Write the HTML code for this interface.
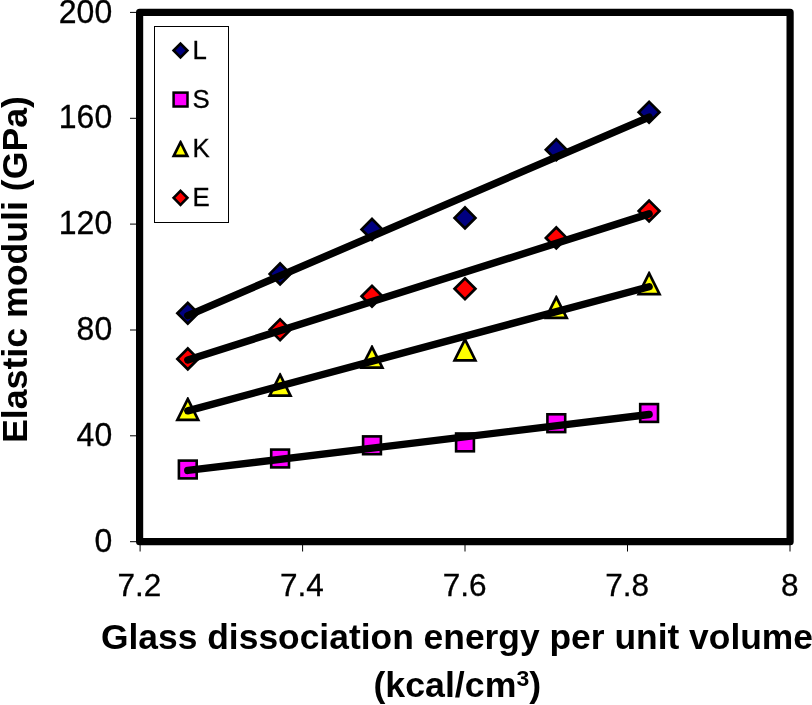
<!DOCTYPE html>
<html><head><meta charset="utf-8"><title>Chart</title>
<style>
html,body{margin:0;padding:0;background:#fff;}
body{width:812px;height:705px;overflow:hidden;}
svg{display:block;will-change:transform;}
text{font-family:"Liberation Sans",sans-serif;fill:#000;}
.b{font-weight:bold;}
.r{stroke:#000;stroke-width:0.3px;}
</style></head><body>
<svg width="812" height="705" viewBox="0 0 812 705">
<rect width="812" height="705" fill="#fff"/>
<line x1="130" y1="12.4" x2="137" y2="12.4" stroke="#000" stroke-width="1"/>
<line x1="130" y1="118.3" x2="137" y2="118.3" stroke="#000" stroke-width="1"/>
<line x1="130" y1="224.1" x2="137" y2="224.1" stroke="#000" stroke-width="1"/>
<line x1="130" y1="330.0" x2="137" y2="330.0" stroke="#000" stroke-width="1"/>
<line x1="130" y1="435.8" x2="137" y2="435.8" stroke="#000" stroke-width="1"/>
<line x1="130" y1="541.7" x2="137" y2="541.7" stroke="#000" stroke-width="1"/>
<line x1="140.1" y1="544" x2="140.1" y2="551.5" stroke="#000" stroke-width="1"/>
<line x1="302.6" y1="544" x2="302.6" y2="551.5" stroke="#000" stroke-width="1"/>
<line x1="465.0" y1="544" x2="465.0" y2="551.5" stroke="#000" stroke-width="1"/>
<line x1="627.5" y1="544" x2="627.5" y2="551.5" stroke="#000" stroke-width="1"/>
<line x1="790.0" y1="544" x2="790.0" y2="551.5" stroke="#000" stroke-width="1"/>
<polygon points="177.4,313.2 187.8,302.8 198.2,313.2 187.8,323.6" fill="#000080" stroke="#000" stroke-width="2.7" stroke-linejoin="miter"/>
<polygon points="269.7,273.9 280.1,263.5 290.5,273.9 280.1,284.3" fill="#000080" stroke="#000" stroke-width="2.7" stroke-linejoin="miter"/>
<polygon points="361.6,229.4 372.0,219.0 382.4,229.4 372.0,239.8" fill="#000080" stroke="#000" stroke-width="2.7" stroke-linejoin="miter"/>
<polygon points="454.6,217.9 465.0,207.5 475.4,217.9 465.0,228.3" fill="#000080" stroke="#000" stroke-width="2.7" stroke-linejoin="miter"/>
<polygon points="545.9,149.7 556.3,139.3 566.7,149.7 556.3,160.1" fill="#000080" stroke="#000" stroke-width="2.7" stroke-linejoin="miter"/>
<polygon points="638.7,112.2 649.1,101.8 659.5,112.2 649.1,122.6" fill="#000080" stroke="#000" stroke-width="2.7" stroke-linejoin="miter"/>
<rect x="178.9" y="460.6" width="17.8" height="17.8" fill="#ff00ff" stroke="#000" stroke-width="2.6"/>
<rect x="271.2" y="449.6" width="17.8" height="17.8" fill="#ff00ff" stroke="#000" stroke-width="2.6"/>
<rect x="363.1" y="436.4" width="17.8" height="17.8" fill="#ff00ff" stroke="#000" stroke-width="2.6"/>
<rect x="456.1" y="433.5" width="17.8" height="17.8" fill="#ff00ff" stroke="#000" stroke-width="2.6"/>
<rect x="547.4" y="414.3" width="17.8" height="17.8" fill="#ff00ff" stroke="#000" stroke-width="2.6"/>
<rect x="640.2" y="404.1" width="17.8" height="17.8" fill="#ff00ff" stroke="#000" stroke-width="2.6"/>
<polygon points="175.22,421.20 187.30,397.03 188.30,397.03 200.38,421.20" fill="#000"/><polygon points="179.58,418.50 187.80,402.07 196.02,418.50" fill="#ffff00"/>
<polygon points="267.52,397.00 279.60,372.83 280.60,372.83 292.68,397.00" fill="#000"/><polygon points="271.88,394.30 280.10,377.87 288.32,394.30" fill="#ffff00"/>
<polygon points="359.42,369.05 371.50,344.88 372.50,344.88 384.58,369.05" fill="#000"/><polygon points="363.78,366.35 372.00,349.92 380.22,366.35" fill="#ffff00"/>
<polygon points="452.42,361.75 464.50,337.58 465.50,337.58 477.58,361.75" fill="#000"/><polygon points="456.78,359.05 465.00,342.62 473.22,359.05" fill="#ffff00"/>
<polygon points="543.72,319.30 555.80,295.13 556.80,295.13 568.88,319.30" fill="#000"/><polygon points="548.08,316.60 556.30,300.17 564.52,316.60" fill="#ffff00"/>
<polygon points="636.52,295.50 648.60,271.33 649.60,271.33 661.68,295.50" fill="#000"/><polygon points="640.88,292.80 649.10,276.37 657.32,292.80" fill="#ffff00"/>
<polygon points="177.4,358.9 187.8,348.5 198.2,358.9 187.8,369.3" fill="#ff0000" stroke="#000" stroke-width="2.7" stroke-linejoin="miter"/>
<polygon points="269.7,329.7 280.1,319.3 290.5,329.7 280.1,340.1" fill="#ff0000" stroke="#000" stroke-width="2.7" stroke-linejoin="miter"/>
<polygon points="361.6,296.3 372.0,285.9 382.4,296.3 372.0,306.7" fill="#ff0000" stroke="#000" stroke-width="2.7" stroke-linejoin="miter"/>
<polygon points="454.6,288.8 465.0,278.4 475.4,288.8 465.0,299.2" fill="#ff0000" stroke="#000" stroke-width="2.7" stroke-linejoin="miter"/>
<polygon points="545.9,237.9 556.3,227.5 566.7,237.9 556.3,248.3" fill="#ff0000" stroke="#000" stroke-width="2.7" stroke-linejoin="miter"/>
<polygon points="638.7,211.0 649.1,200.6 659.5,211.0 649.1,221.4" fill="#ff0000" stroke="#000" stroke-width="2.7" stroke-linejoin="miter"/>
<line x1="187.8" y1="315.55" x2="649.1" y2="117.09" stroke="#000" stroke-width="7.4" stroke-linecap="round"/>
<line x1="187.8" y1="470.43" x2="649.1" y2="414.52" stroke="#000" stroke-width="7.4" stroke-linecap="round"/>
<line x1="187.8" y1="410.83" x2="649.1" y2="286.70" stroke="#000" stroke-width="7.4" stroke-linecap="round"/>
<line x1="187.8" y1="359.91" x2="649.1" y2="213.85" stroke="#000" stroke-width="7.4" stroke-linecap="round"/>
<rect x="139.6" y="12.4" width="650.5" height="529.3" fill="none" stroke="#000" stroke-width="7.2" stroke-linejoin="round"/>
<rect x="154.5" y="26.5" width="74" height="196" fill="#fff" stroke="#000" stroke-width="1"/>
<polygon points="173.6,50.5 180.5,43.5 187.4,50.5 180.5,57.5" fill="#000080" stroke="#000" stroke-width="2.6" stroke-linejoin="miter"/>
<rect x="173.6" y="92.6" width="13.9" height="13.9" fill="#ff00ff" stroke="#000" stroke-width="2.5"/>
<polygon points="171.59,157.20 180.05,140.27 181.05,140.27 189.51,157.20" fill="#000"/><polygon points="175.95,154.50 180.55,145.31 185.15,154.50" fill="#ffff00"/>
<polygon points="173.6,197.8 180.5,190.9 187.4,197.8 180.5,204.8" fill="#ff0000" stroke="#000" stroke-width="2.6" stroke-linejoin="miter"/>
<text transform="translate(192.60,58.80) scale(1.0,1.01)" font-size="25.8" text-anchor="start" class="r">L</text>
<text transform="translate(192.60,107.90) scale(1.0,1.01)" font-size="25.8" text-anchor="start" class="r">S</text>
<text transform="translate(192.60,157.00) scale(1.0,1.01)" font-size="25.8" text-anchor="start" class="r">K</text>
<text transform="translate(192.60,206.10) scale(1.0,1.01)" font-size="25.8" text-anchor="start" class="r">E</text>
<text transform="translate(112.20,23.25) scale(1.0,1.05)" font-size="32" text-anchor="end" class="r">200</text>
<text transform="translate(112.20,128.40) scale(1.0,1.05)" font-size="32" text-anchor="end" class="r">160</text>
<text transform="translate(112.20,234.15) scale(1.0,1.05)" font-size="32" text-anchor="end" class="r">120</text>
<text transform="translate(112.20,339.70) scale(1.0,1.05)" font-size="32" text-anchor="end" class="r">80</text>
<text transform="translate(112.20,445.60) scale(1.0,1.05)" font-size="32" text-anchor="end" class="r">40</text>
<text transform="translate(112.20,552.00) scale(1.0,1.05)" font-size="32" text-anchor="end" class="r">0</text>
<text transform="translate(139.30,595.80) scale(0.985,1.005)" font-size="32" text-anchor="middle" class="r">7.2</text>
<text transform="translate(301.93,595.80) scale(0.985,1.005)" font-size="32" text-anchor="middle" class="r">7.4</text>
<text transform="translate(464.55,595.80) scale(0.985,1.005)" font-size="32" text-anchor="middle" class="r">7.6</text>
<text transform="translate(627.18,595.80) scale(0.985,1.005)" font-size="32" text-anchor="middle" class="r">7.8</text>
<text transform="translate(789.80,595.80) scale(0.985,1.005)" font-size="32" text-anchor="middle" class="r">8</text>
<text x="101" y="649.4" font-size="34.2" class="b" textLength="712" lengthAdjust="spacingAndGlyphs">Glass dissociation energy per unit volume</text>
<text transform="translate(373.4,696.8) scale(1.045,1)" font-size="34.2" class="b">(kcal/cm<tspan font-size="22" dy="-10.9">3</tspan><tspan dy="10.9">)</tspan></text>
<text transform="translate(27,443) rotate(-90)" font-size="34.2" class="b" textLength="347" lengthAdjust="spacingAndGlyphs">Elastic moduli (GPa)</text>
</svg>
</body></html>
